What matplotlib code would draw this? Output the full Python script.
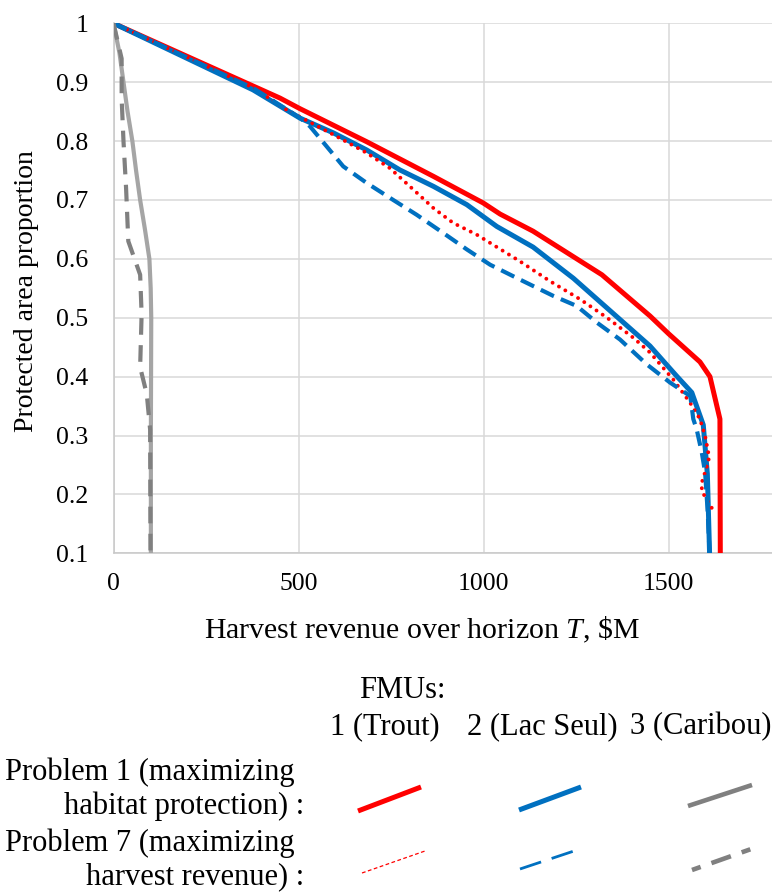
import matplotlib
matplotlib.use("Agg")
import matplotlib.pyplot as plt
from matplotlib.lines import Line2D

plt.rcParams['font.family'] = ['Liberation Serif', 'DejaVu Serif']
plt.rcParams['mathtext.fontset'] = 'custom'
plt.rcParams['mathtext.rm'] = 'Liberation Serif'
plt.rcParams['mathtext.it'] = 'Liberation Serif:italic'

# ---------------- data ----------------
# Problem 1 (maximizing habitat protection)
p1_trout_x = [0, 450, 504, 684, 865, 999, 1045, 1134, 1320, 1450, 1500, 1585, 1612, 1639, 1640]
p1_trout_y = [1.0, 0.873, 0.855, 0.799, 0.740, 0.695, 0.676, 0.647, 0.573, 0.503, 0.473, 0.425,
              0.400, 0.328, 0.1]

p1_lacseul_x = [0, 377, 504, 594, 684, 774, 865, 955, 1036, 1134, 1243, 1369, 1450, 1522, 1563,
                1594, 1605, 1611]
p1_lacseul_y = [1.0, 0.887, 0.839, 0.814, 0.785, 0.751, 0.723, 0.692, 0.655, 0.620, 0.567, 0.497,
                0.452, 0.401, 0.373, 0.318, 0.235, 0.1]

p1_caribou_x = [0, 16, 27, 38, 51, 61, 72, 85, 97, 100.5, 102, 101, 101]
p1_caribou_y = [1.0, 0.95, 0.9, 0.85, 0.8, 0.75, 0.7, 0.65, 0.6, 0.55, 0.5, 0.3, 0.1]

# Problem 7 (maximizing harvest revenue)
p7_trout_x = [0, 380, 468, 594, 684, 747, 815, 865, 918, 982, 1098, 1180, 1262, 1334, 1405, 1450,
              1513, 1558, 1585, 1599, 1610, 1603, 1590, 1590, 1612, 1626]
p7_trout_y = [1.0, 0.89, 0.853, 0.811, 0.780, 0.754, 0.715, 0.686, 0.661, 0.641, 0.596, 0.562,
              0.531, 0.500, 0.466, 0.441, 0.395, 0.356, 0.328, 0.299, 0.263, 0.246, 0.220, 0.206,
              0.181, 0.170]

p7_lacseul_x = [0, 380, 505, 531, 621, 684, 756, 819, 891, 955, 1018, 1098, 1189, 1252, 1306,
                1369, 1441, 1504, 1559, 1567, 1576, 1590, 1599, 1606, 1611]
p7_lacseul_y = [1.0, 0.889, 0.839, 0.825, 0.757, 0.729, 0.700, 0.675, 0.644, 0.616, 0.590, 0.565,
                0.537, 0.520, 0.492, 0.463, 0.421, 0.390, 0.367, 0.328, 0.311, 0.271, 0.237,
                0.170, 0.1]

p7_caribou_x = [0, 22, 22, 27, 34, 40, 72, 76, 72, 90, 99, 100]
p7_caribou_y = [1.0, 0.94, 0.872, 0.8, 0.72, 0.63, 0.573, 0.506, 0.416, 0.37, 0.31, 0.1]

x_ticks = [0, 500, 1000, 1500]
y_ticks = [0.1, 0.2, 0.3, 0.4, 0.5, 0.6, 0.7, 0.8, 0.9, 1.0]
y_tick_labels = ["0.1", "0.2", "0.3", "0.4", "0.5", "0.6", "0.7", "0.8", "0.9", "1"]
fmu_labels = ["1 (Trout)", "2 (Lac Seul)", "3 (Caribou)"]

RED = "#FF0000"
BLUE = "#0070C0"
GRAY_L = "#A5A5A5"
GRAY_D = "#808080"
FS_TICK = 18.5
FS_XLAB = 21.5
FS_YLAB = 20
FS_LEG = 22

W, H = 772, 893
fig = plt.figure(figsize=(W / 100, H / 100), dpi=100)

x0px, x1px = 113.5, 772
ytop, ybot = 23.3, 553.3
ax = fig.add_axes([x0px / W, 1 - ybot / H, (x1px - x0px) / W, (ybot - ytop) / H])

ax.plot(p1_trout_x, p1_trout_y, color=RED, lw=3.6, solid_joinstyle='round', zorder=3)
ax.plot(p1_lacseul_x, p1_lacseul_y, color=BLUE, lw=3.6, solid_joinstyle='round', zorder=4)
ax.plot(p1_caribou_x, p1_caribou_y, color=GRAY_L, lw=3.0, solid_joinstyle='round', zorder=4)
ax.plot(p7_trout_x, p7_trout_y, color=RED, lw=2.8, linestyle=(0, (0.01, 1.9)),
        dash_capstyle='round', zorder=5)
ax.plot(p7_lacseul_x, p7_lacseul_y, color=BLUE, lw=3.0, linestyle=(0, (3.5, 1.8)), zorder=5)
ax.plot(p7_caribou_x, p7_caribou_y, color=GRAY_D, lw=3.0, linestyle=(0, (4.0, 2.5)), zorder=5)

ax.set_xlim(0, (x1px - x0px) / 0.37)
ax.set_ylim(0.1, 1.0)
ax.set_xticks(x_ticks)
ax.set_xticklabels([str(v) for v in x_ticks])
ax.set_yticks(y_ticks)
ax.set_yticklabels(y_tick_labels)
ax.tick_params(axis='both', length=0, labelsize=FS_TICK)
ax.tick_params(axis='y', pad=18)
ax.tick_params(axis='x', pad=14)
ax.grid(True, color="#D9D9D9", lw=1.1)
ax.set_axisbelow(True)
for s in ['top', 'right']:
    ax.spines[s].set_visible(False)
for s in ['left', 'bottom']:
    ax.spines[s].set_color("#C8C8C8")
    ax.spines[s].set_linewidth(1.1)

ax.set_xlabel(r'Harvest revenue over horizon $T$, \$M', fontsize=FS_XLAB)
ax.xaxis.set_label_coords((422 - x0px) / (x1px - x0px), 1 - (630 - ytop) / (ybot - ytop))
ax.xaxis.label.set_va('center')
ax.set_ylabel('Protected area proportion', fontsize=FS_YLAB)
ax.yaxis.set_label_coords((27 - x0px) / (x1px - x0px), 1 - (291 - ytop) / (ybot - ytop))
ax.yaxis.label.set_va('center')


def fx(px):
    return px / W


def fy(py):
    return 1 - py / H


# ---------------- custom legend ----------------
fig.text(fx(402), fy(690), "FMUs:", fontsize=FS_LEG, ha='center', va='center')
fig.text(fx(385), fy(727), fmu_labels[0], fontsize=FS_LEG, ha='center', va='center')
fig.text(fx(542), fy(727), fmu_labels[1], fontsize=FS_LEG, ha='center', va='center')
fig.text(fx(630), fy(727), fmu_labels[2], fontsize=FS_LEG, ha='left', va='center')

fig.text(fx(5), fy(772), "Problem 1 (maximizing", fontsize=FS_LEG, ha='left', va='center')
fig.text(fx(304), fy(806), "habitat protection) :", fontsize=FS_LEG, ha='right', va='center')
fig.text(fx(5), fy(843), "Problem 7 (maximizing", fontsize=FS_LEG, ha='left', va='center')
fig.text(fx(304), fy(877), "harvest revenue) :", fontsize=FS_LEG, ha='right', va='center')

leg_lines = [
    ((358, 811), (421, 787), dict(color=RED, lw=3.6, solid_capstyle='butt')),
    ((519, 810), (581, 787), dict(color=BLUE, lw=3.6, solid_capstyle='butt')),
    ((688, 806), (752, 785), dict(color=GRAY_D, lw=3.3, solid_capstyle='butt')),
    ((362, 873), (425, 851), dict(color=RED, lw=0.9, linestyle=(0, (3, 2)))),
    ((520, 869), (583, 848), dict(color=BLUE, lw=2.0, linestyle=(0, (8, 4)))),
    ((692, 870), (754, 848), dict(color=GRAY_D, lw=3.3, linestyle=(0, (2.0, 2.5, 4.5, 2.5)))),
]
for (a, b, kw) in leg_lines:
    fig.add_artist(Line2D([fx(a[0]), fx(b[0])], [fy(a[1]), fy(b[1])],
                          transform=fig.transFigure, **kw))

fig.savefig("out.png", dpi=100)
